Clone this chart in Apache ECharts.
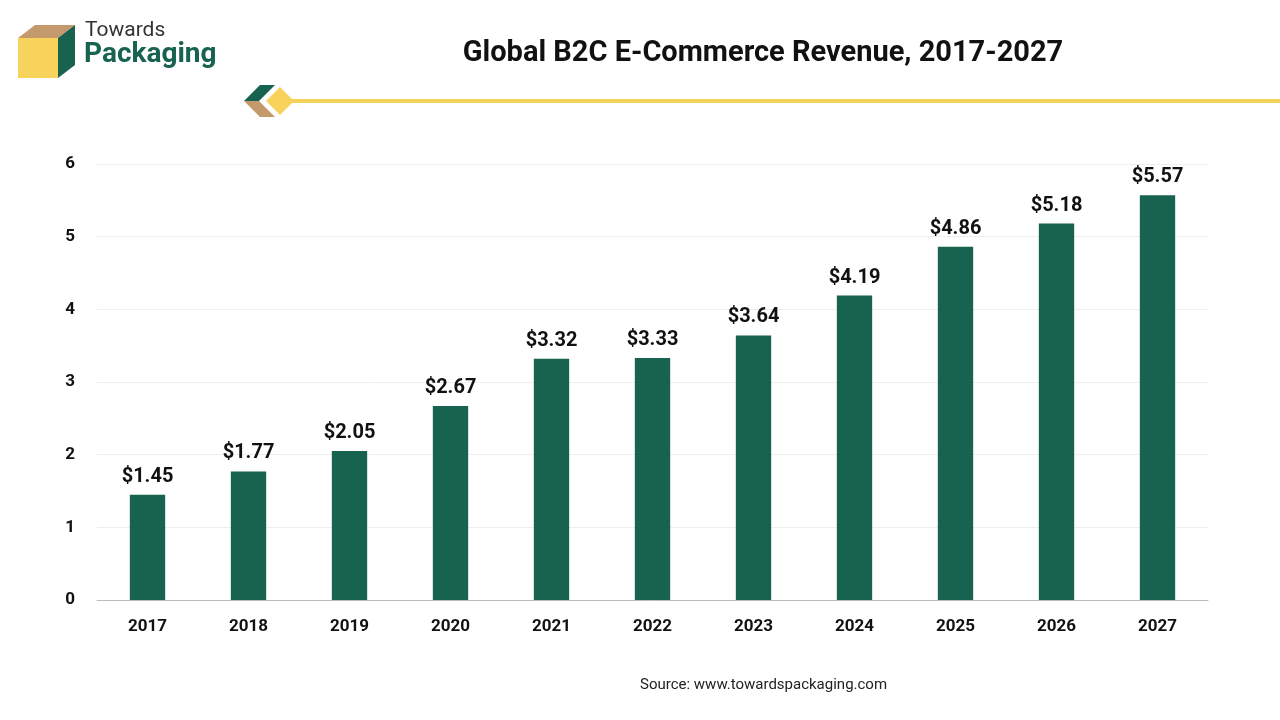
<!DOCTYPE html>
<html><head><meta charset="utf-8">
<script src="https://cdn.jsdelivr.net/npm/echarts@6/dist/echarts.min.js"></script>
<style>html,body{margin:0;padding:0;background:#fff}#c{width:1280px;height:720px}</style>
</head><body><div id="c"></div>
<script>
const categories = ['2017','2018','2019','2020','2021','2022','2023','2024','2025','2026','2027'];
const revenue = [1.45,1.77,2.05,2.67,3.32,3.33,3.64,4.19,4.86,5.18,5.57];
const yTicks = [0,1,2,3,4,5,6];
const chart = echarts.init(document.getElementById('c'));
const F = 'Roboto, "Open Sans", sans-serif';
chart.setOption({
  backgroundColor:'#fff',
  title:{text:'Global B2C E-Commerce Revenue, 2017-2027',left:758,top:34,textAlign:'center',
    textStyle:{fontFamily:F,fontSize:29,fontWeight:'bold',color:'#111'}},
  grid:{left:97,right:72,top:164,bottom:120},
  xAxis:{type:'category',data:categories,
    axisLine:{lineStyle:{color:'#bbb'}},axisTick:{show:false},
    axisLabel:{fontFamily:F,fontSize:17,fontWeight:'bold',color:'#111',margin:18}},
  yAxis:{type:'value',min:yTicks[0],max:yTicks[yTicks.length-1],interval:1,
    axisLine:{show:false},axisTick:{show:false},
    splitLine:{lineStyle:{color:'#eee'}},
    axisLabel:{fontFamily:F,fontSize:17,fontWeight:'bold',color:'#111',margin:22}},
  series:[{type:'bar',data:revenue,barWidth:'35%',itemStyle:{color:'#17634f'},
    label:{show:true,position:'top',distance:8,formatter:p=>'$'+p.value.toFixed(2),
      fontFamily:F,fontSize:20,fontWeight:'bold',color:'#111'}}],
  graphic:[
    {type:'polygon',shape:{points:[[18,38],[58,38],[75,25],[35,25]]},style:{fill:'#c49a6c'}},
    {type:'rect',shape:{x:18,y:38,width:40,height:40},style:{fill:'#f7d35c'}},
    {type:'polygon',shape:{points:[[58,38],[75,25],[75,65],[58,78]]},style:{fill:'#17634f'}},
    {type:'text',left:85,top:20,style:{text:'Towards',fontFamily:F,fontSize:21,fill:'#333'}},
    {type:'text',left:84,top:41,style:{text:'Packaging',fontFamily:F,fontSize:28,fontWeight:'bold',fill:'#17634f'}},
    {type:'polygon',shape:{points:[[244,101],[260,85],[275,85],[259,101]]},style:{fill:'#17634f'}},
    {type:'polygon',shape:{points:[[244,101],[259,101],[275,117],[260,117]]},style:{fill:'#c49a6c'}},
    {type:'polygon',shape:{points:[[266,101],[280,87],[294,101],[280,115]]},style:{fill:'#f7d35c'}},
    {type:'rect',shape:{x:290,y:99,width:990,height:4},style:{fill:'#f5d35a'}},
    {type:'text',left:640,top:678,style:{text:'Source: www.towardspackaging.com',textAlign:'center',fontFamily:F,fontSize:15,fill:'#222'}}
  ]
});
</script></body></html>
